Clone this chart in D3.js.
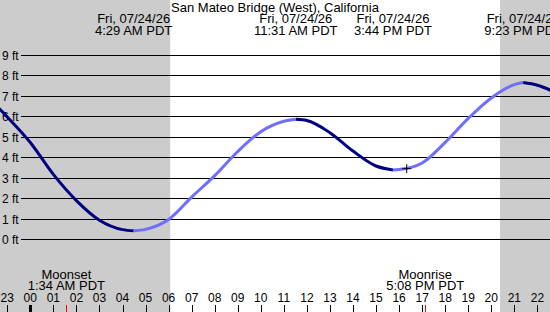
<!DOCTYPE html>
<html>
<head>
<meta charset="utf-8">
<script src="https://cdn.jsdelivr.net/npm/d3@7"></script>
<style>
  body { margin: 0; background: #fff; }
  svg { display: block; font-family: "Liberation Sans", Arial, sans-serif; }
</style>
</head>
<body>
<div id="chart"></div>
<script>
// tide heights (hour of day, feet)
const hours = [-2, -1, 0, 1, 2, 3, 4, 5, 6, 7, 8, 9, 10, 11, 12, 13, 14, 15, 16, 17, 18, 19, 20, 21, 22, 23];
const feet  = [7.1, 5.97, 4.72, 3.16, 1.88, 0.92, 0.46, 0.47, 0.95, 2.05, 3.1, 4.28, 5.25, 5.76, 5.8, 5.2, 4.3, 3.57, 3.4, 3.72, 4.73, 5.9, 6.9, 7.55, 7.52, 7.05];

// highs and lows
const eventHours = [4.483, 11.517, 15.733, 21.383];
const eventFeet  = [0.40, 5.86, 3.38, 7.65];
const eventTimes = ["4:29 AM PDT", "11:31 AM PDT", "3:44 PM PDT", "9:23 PM PDT"];
const eventDate  = "Fri, 07/24/26";

const moonHours  = [1.567, 17.133];
const moonNames  = ["Moonset", "Moonrise"];
const moonTimes  = ["1:34 AM PDT", "5:08 PM PDT"];

const sunrise = 6.07, sunset = 20.38;
const nowHour = 16.33, nowFeet = 3.44;

const feetTicks = [0, 1, 2, 3, 4, 5, 6, 7, 8, 9];
const hourTicks = d3.range(-1, 24);

const title = "San Mateo Bridge (West), California";

const width = 550, height = 312;

const x = d3.scaleLinear().domain([0, 22]).range([30.3, 537.4]);
const y = d3.scaleLinear().domain([0, 9]).range([239, 55]);

const svg = d3.select("#chart").append("svg")
    .attr("width", width)
    .attr("height", height);

// night
svg.append("rect")
    .attr("x", 0).attr("y", 0)
    .attr("width", x(sunrise)).attr("height", height)
    .attr("fill", "#cccccc");
svg.append("rect")
    .attr("x", x(sunset)).attr("y", 0)
    .attr("width", width - x(sunset)).attr("height", height)
    .attr("fill", "#cccccc");

// horizontal feet lines
const grid = svg.append("g");
feetTicks.forEach(f => {
    const yy = Math.round(y(f)) + 0.5;
    grid.append("line")
        .attr("x1", 21).attr("x2", width)
        .attr("y1", yy).attr("y2", yy)
        .attr("stroke", "#000").attr("stroke-width", 1);
    grid.append("text")
        .attr("x", 2).attr("y", yy + 4.5)
        .attr("font-size", 12)
        .text(f + " ft");
});

// tide curve, split at highs/lows
const pts = hours.map((h, i) => [h, feet[i]])
    .concat(eventHours.map((h, i) => [h, eventFeet[i]]))
    .sort((a, b) => a[0] - b[0]);

const bounds = [hours[0]].concat(eventHours, [hours[hours.length - 1]]);
const line = d3.line()
    .x(d => x(d[0]))
    .y(d => y(d[1]))
    .curve(d3.curveMonotoneX);

for (let i = 0; i < bounds.length - 1; i++) {
    const seg = pts.filter(p => p[0] >= bounds[i] && p[0] <= bounds[i + 1]);
    const rising = seg[seg.length - 1][1] > seg[0][1];
    svg.append("path")
        .attr("d", line(seg))
        .attr("fill", "none")
        .attr("stroke", rising ? "#6e6eff" : "#000080")
        .attr("stroke-width", 3);
}

// current time marker
svg.append("path")
    .attr("d", `M${x(nowHour) - 4.5},${y(nowFeet)}h9M${x(nowHour)},${y(nowFeet) - 4.5}v9`)
    .attr("stroke", "#000").attr("stroke-width", 1)
    .attr("fill", "none");

// title and tide event labels
svg.append("text")
    .attr("x", width / 2).attr("y", 12)
    .attr("text-anchor", "middle")
    .attr("font-size", 13)
    .text(title);

eventHours.forEach((h, i) => {
    const g = svg.append("g").attr("text-anchor", "middle").attr("font-size", 13);
    g.append("text").attr("x", x(h)).attr("y", 23).text(eventDate);
    g.append("text").attr("x", x(h)).attr("y", 34.5).text(eventTimes[i]);
});

// moon labels
moonHours.forEach((h, i) => {
    const g = svg.append("g").attr("text-anchor", "middle").attr("font-size", 13);
    g.append("text").attr("x", x(h)).attr("y", 278.5).text(moonNames[i]);
    g.append("text").attr("x", x(h)).attr("y", 290).text(moonTimes[i]);
});

// hour axis
const axis = svg.append("g");
hourTicks.forEach(h => {
    const xx = Math.round(x(h)) + 0.5;
    axis.append("line")
        .attr("x1", xx).attr("x2", xx)
        .attr("y1", 305).attr("y2", height)
        .attr("stroke", "#000")
        .attr("stroke-width", h === 0 ? 3 : 1);
    axis.append("text")
        .attr("x", x(h)).attr("y", 301.5)
        .attr("text-anchor", "middle")
        .attr("font-size", 12)
        .text(d3.format("02")((h + 24) % 24));
});
moonHours.forEach(h => {
    const xx = Math.round(x(h)) + 0.5;
    axis.append("line")
        .attr("x1", xx).attr("x2", xx)
        .attr("y1", 305).attr("y2", height)
        .attr("stroke", "#ff0000").attr("stroke-width", 1);
});
</script>
</body>
</html>
